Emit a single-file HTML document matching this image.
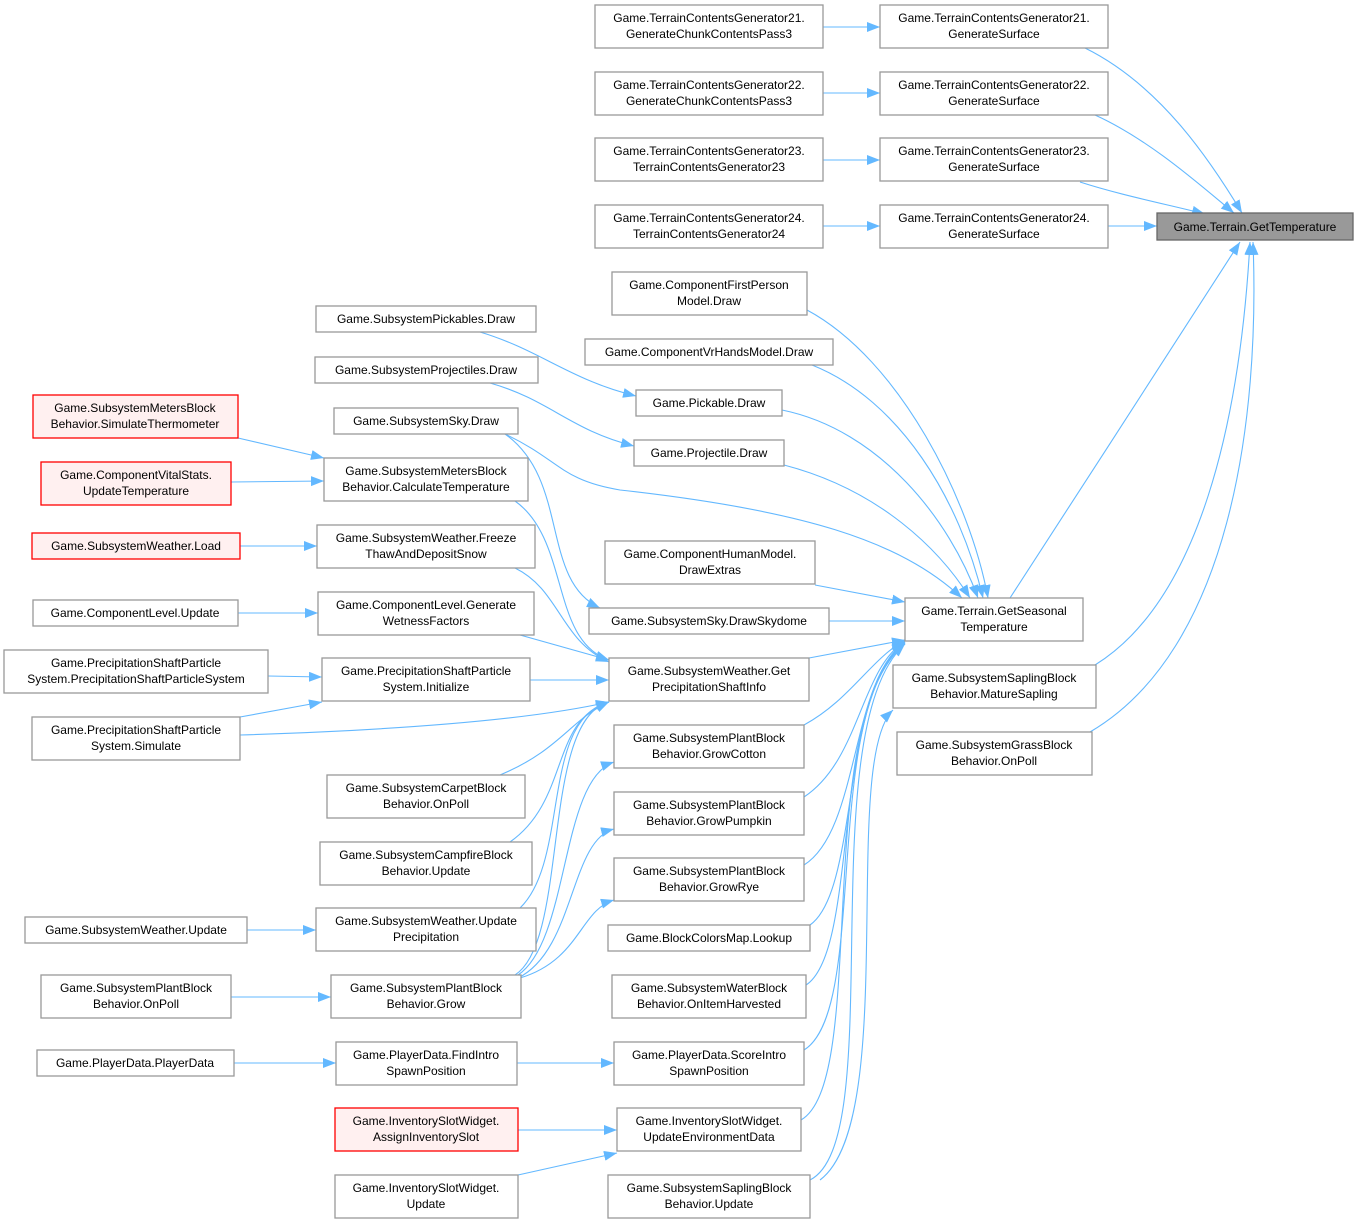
<!DOCTYPE html>
<html><head><meta charset="utf-8"><style>
html,body{margin:0;padding:0;background:#fff;}
svg{display:block;}
text{font-family:"Liberation Sans",sans-serif;font-size:12px;fill:#000;text-anchor:middle;}
.n{fill:#fff;stroke:#999;stroke-width:1.3;}
.r{fill:#fff0f0;stroke:#f00;stroke-width:1.3;}
.g{fill:#999;stroke:#666;stroke-width:1.3;}
.e{fill:none;stroke:#63b8ff;stroke-width:1.1;marker-end:url(#a);}
</style></head><body>
<svg width="1358" height="1224" viewBox="0 0 1358 1224" xmlns="http://www.w3.org/2000/svg">
<defs><marker id="a" markerUnits="userSpaceOnUse" markerWidth="14" markerHeight="11" refX="13" refY="5" orient="auto"><path d="M0,0 L13,5 L0,10 Z" fill="#63b8ff"/></marker></defs>

<!-- edges -->
<path class="e" d="M823,27 L880,27"/>
<path class="e" d="M823,93 L880,93"/>
<path class="e" d="M823,160 L880,160"/>
<path class="e" d="M823,226 L880,226"/>
<path class="e" d="M1085,48 C1160,85 1210,160 1242,213"/>
<path class="e" d="M1095,115 C1150,140 1200,185 1234,213"/>
<path class="e" d="M1080,182 C1120,195 1170,205 1205,214"/>
<path class="e" d="M1108,226 L1157,226"/>
<path class="e" d="M1010,598 C1080,490 1190,320 1240,242"/>
<path class="e" d="M1095,665 C1200,600 1240,420 1250,242"/>
<path class="e" d="M1090,732 C1230,650 1260,420 1253,242"/>

<path class="e" d="M807,310 C900,360 970,500 988,598"/>
<path class="e" d="M812,365 C900,400 960,500 983,598"/>
<path class="e" d="M782,410 C880,430 950,520 978,598"/>
<path class="e" d="M784,465 C880,490 940,550 970,598"/>
<path class="e" d="M505,434 C560,460 560,480 620,490 C800,510 900,540 962,598"/>
<path class="e" d="M815,585 L905,602"/>
<path class="e" d="M829,621 L905,621"/>
<path class="e" d="M809,658 L905,640"/>
<path class="e" d="M804,725 C850,700 870,660 905,640"/>
<path class="e" d="M804,797 C860,760 860,670 905,641"/>
<path class="e" d="M804,865 C860,830 850,680 905,642"/>
<path class="e" d="M810,925 C860,890 840,690 905,642"/>
<path class="e" d="M806,985 C860,950 830,700 905,643"/>
<path class="e" d="M804,1050 C870,1010 820,710 905,643"/>
<path class="e" d="M801,1120 C870,1080 810,720 905,644"/>
<path class="e" d="M810,1180 C890,1140 810,730 905,644"/>
<path class="e" d="M820,1180 C900,1120 840,760 893,710"/>

<path class="e" d="M480,332 C540,350 570,380 636,396"/>
<path class="e" d="M490,383 C550,400 570,430 634,446"/>
<path class="e" d="M505,434 C570,480 540,580 600,608"/>
<path class="e" d="M238,438 L324,458"/>
<path class="e" d="M231,482 L324,481"/>
<path class="e" d="M240,546 L317,546"/>
<path class="e" d="M238,613 L318,613"/>
<path class="e" d="M268,676 L322,677"/>
<path class="e" d="M240,717 L322,702"/>
<path class="e" d="M240,735 C400,730 530,720 609,702"/>
<path class="e" d="M515,501 C570,540 550,640 609,660"/>
<path class="e" d="M515,568 C560,590 560,640 609,662"/>
<path class="e" d="M520,635 L609,660"/>
<path class="e" d="M530,680 L609,680"/>
<path class="e" d="M500,775 C560,750 570,720 609,702"/>
<path class="e" d="M510,842 C570,800 550,720 609,702"/>
<path class="e" d="M520,908 C570,860 540,720 609,702"/>
<path class="e" d="M515,975 C570,940 540,720 609,702"/>
<path class="e" d="M518,975 C570,940 560,780 614,762"/>
<path class="e" d="M518,978 C575,950 570,840 614,829"/>
<path class="e" d="M520,978 C580,960 580,910 614,900"/>
<path class="e" d="M247,930 L316,930"/>
<path class="e" d="M231,997 L331,997"/>
<path class="e" d="M234,1063 L336,1063"/>
<path class="e" d="M517,1063 L614,1063"/>
<path class="e" d="M518,1130 L617,1130"/>
<path class="e" d="M518,1175 L617,1153"/>

<!-- nodes -->
<rect class="n" x="595" y="5" width="228" height="43"/><text x="709" y="22">Game.TerrainContentsGenerator21.</text><text x="709" y="38">GenerateChunkContentsPass3</text>
<rect class="n" x="595" y="72" width="228" height="43"/><text x="709" y="89">Game.TerrainContentsGenerator22.</text><text x="709" y="105">GenerateChunkContentsPass3</text>
<rect class="n" x="595" y="138" width="228" height="43"/><text x="709" y="155">Game.TerrainContentsGenerator23.</text><text x="709" y="171">TerrainContentsGenerator23</text>
<rect class="n" x="595" y="205" width="228" height="43"/><text x="709" y="222">Game.TerrainContentsGenerator24.</text><text x="709" y="238">TerrainContentsGenerator24</text>
<rect class="n" x="880" y="5" width="228" height="43"/><text x="994" y="22">Game.TerrainContentsGenerator21.</text><text x="994" y="38">GenerateSurface</text>
<rect class="n" x="880" y="72" width="228" height="43"/><text x="994" y="89">Game.TerrainContentsGenerator22.</text><text x="994" y="105">GenerateSurface</text>
<rect class="n" x="880" y="138" width="228" height="43"/><text x="994" y="155">Game.TerrainContentsGenerator23.</text><text x="994" y="171">GenerateSurface</text>
<rect class="n" x="880" y="205" width="228" height="43"/><text x="994" y="222">Game.TerrainContentsGenerator24.</text><text x="994" y="238">GenerateSurface</text>
<rect class="g" x="1157" y="213" width="196" height="27"/><text x="1255" y="231">Game.Terrain.GetTemperature</text>

<rect class="n" x="612" y="272" width="195" height="43"/><text x="709" y="289">Game.ComponentFirstPerson</text><text x="709" y="305">Model.Draw</text>
<rect class="n" x="585" y="339" width="248" height="26"/><text x="709" y="356">Game.ComponentVrHandsModel.Draw</text>
<rect class="n" x="636" y="390" width="146" height="26"/><text x="709" y="407">Game.Pickable.Draw</text>
<rect class="n" x="634" y="440" width="150" height="26"/><text x="709" y="457">Game.Projectile.Draw</text>
<rect class="n" x="605" y="541" width="210" height="43"/><text x="710" y="558">Game.ComponentHumanModel.</text><text x="710" y="574">DrawExtras</text>
<rect class="n" x="589" y="608" width="240" height="26"/><text x="709" y="625">Game.SubsystemSky.DrawSkydome</text>
<rect class="n" x="609" y="658" width="200" height="43"/><text x="709" y="675">Game.SubsystemWeather.Get</text><text x="709" y="691">PrecipitationShaftInfo</text>
<rect class="n" x="614" y="725" width="190" height="43"/><text x="709" y="742">Game.SubsystemPlantBlock</text><text x="709" y="758">Behavior.GrowCotton</text>
<rect class="n" x="614" y="792" width="190" height="43"/><text x="709" y="809">Game.SubsystemPlantBlock</text><text x="709" y="825">Behavior.GrowPumpkin</text>
<rect class="n" x="614" y="858" width="190" height="43"/><text x="709" y="875">Game.SubsystemPlantBlock</text><text x="709" y="891">Behavior.GrowRye</text>
<rect class="n" x="608" y="925" width="202" height="26"/><text x="709" y="942">Game.BlockColorsMap.Lookup</text>
<rect class="n" x="612" y="975" width="194" height="43"/><text x="709" y="992">Game.SubsystemWaterBlock</text><text x="709" y="1008">Behavior.OnItemHarvested</text>
<rect class="n" x="614" y="1042" width="190" height="43"/><text x="709" y="1059">Game.PlayerData.ScoreIntro</text><text x="709" y="1075">SpawnPosition</text>
<rect class="n" x="617" y="1108" width="184" height="43"/><text x="709" y="1125">Game.InventorySlotWidget.</text><text x="709" y="1141">UpdateEnvironmentData</text>
<rect class="n" x="608" y="1175" width="202" height="43"/><text x="709" y="1192">Game.SubsystemSaplingBlock</text><text x="709" y="1208">Behavior.Update</text>

<rect class="n" x="905" y="598" width="178" height="43"/><text x="994" y="615">Game.Terrain.GetSeasonal</text><text x="994" y="631">Temperature</text>
<rect class="n" x="893" y="665" width="203" height="43"/><text x="994" y="682">Game.SubsystemSaplingBlock</text><text x="994" y="698">Behavior.MatureSapling</text>
<rect class="n" x="897" y="732" width="195" height="43"/><text x="994" y="749">Game.SubsystemGrassBlock</text><text x="994" y="765">Behavior.OnPoll</text>

<rect class="n" x="316" y="306" width="220" height="26"/><text x="426" y="323">Game.SubsystemPickables.Draw</text>
<rect class="n" x="315" y="357" width="223" height="26"/><text x="426" y="374">Game.SubsystemProjectiles.Draw</text>
<rect class="n" x="334" y="408" width="184" height="26"/><text x="426" y="425">Game.SubsystemSky.Draw</text>
<rect class="n" x="324" y="458" width="204" height="43"/><text x="426" y="475">Game.SubsystemMetersBlock</text><text x="426" y="491">Behavior.CalculateTemperature</text>
<rect class="n" x="317" y="525" width="218" height="43"/><text x="426" y="542">Game.SubsystemWeather.Freeze</text><text x="426" y="558">ThawAndDepositSnow</text>
<rect class="n" x="318" y="592" width="216" height="43"/><text x="426" y="609">Game.ComponentLevel.Generate</text><text x="426" y="625">WetnessFactors</text>
<rect class="n" x="322" y="658" width="208" height="43"/><text x="426" y="675">Game.PrecipitationShaftParticle</text><text x="426" y="691">System.Initialize</text>
<rect class="n" x="327" y="775" width="198" height="43"/><text x="426" y="792">Game.SubsystemCarpetBlock</text><text x="426" y="808">Behavior.OnPoll</text>
<rect class="n" x="320" y="842" width="212" height="43"/><text x="426" y="859">Game.SubsystemCampfireBlock</text><text x="426" y="875">Behavior.Update</text>
<rect class="n" x="316" y="908" width="220" height="43"/><text x="426" y="925">Game.SubsystemWeather.Update</text><text x="426" y="941">Precipitation</text>
<rect class="n" x="331" y="975" width="190" height="43"/><text x="426" y="992">Game.SubsystemPlantBlock</text><text x="426" y="1008">Behavior.Grow</text>
<rect class="n" x="336" y="1042" width="181" height="43"/><text x="426" y="1059">Game.PlayerData.FindIntro</text><text x="426" y="1075">SpawnPosition</text>
<rect class="r" x="335" y="1108" width="183" height="43"/><text x="426" y="1125">Game.InventorySlotWidget.</text><text x="426" y="1141">AssignInventorySlot</text>
<rect class="n" x="335" y="1175" width="183" height="43"/><text x="426" y="1192">Game.InventorySlotWidget.</text><text x="426" y="1208">Update</text>

<rect class="r" x="33" y="395" width="205" height="43"/><text x="135" y="412">Game.SubsystemMetersBlock</text><text x="135" y="428">Behavior.SimulateThermometer</text>
<rect class="r" x="41" y="462" width="190" height="43"/><text x="136" y="479">Game.ComponentVitalStats.</text><text x="136" y="495">UpdateTemperature</text>
<rect class="r" x="32" y="533" width="208" height="26"/><text x="136" y="550">Game.SubsystemWeather.Load</text>
<rect class="n" x="33" y="600" width="205" height="26"/><text x="135" y="617">Game.ComponentLevel.Update</text>
<rect class="n" x="4" y="650" width="264" height="43"/><text x="136" y="667">Game.PrecipitationShaftParticle</text><text x="136" y="683">System.PrecipitationShaftParticleSystem</text>
<rect class="n" x="32" y="717" width="208" height="43"/><text x="136" y="734">Game.PrecipitationShaftParticle</text><text x="136" y="750">System.Simulate</text>
<rect class="n" x="25" y="917" width="222" height="26"/><text x="136" y="934">Game.SubsystemWeather.Update</text>
<rect class="n" x="41" y="975" width="190" height="43"/><text x="136" y="992">Game.SubsystemPlantBlock</text><text x="136" y="1008">Behavior.OnPoll</text>
<rect class="n" x="37" y="1050" width="197" height="26"/><text x="135" y="1067">Game.PlayerData.PlayerData</text>
</svg>
</body></html>
